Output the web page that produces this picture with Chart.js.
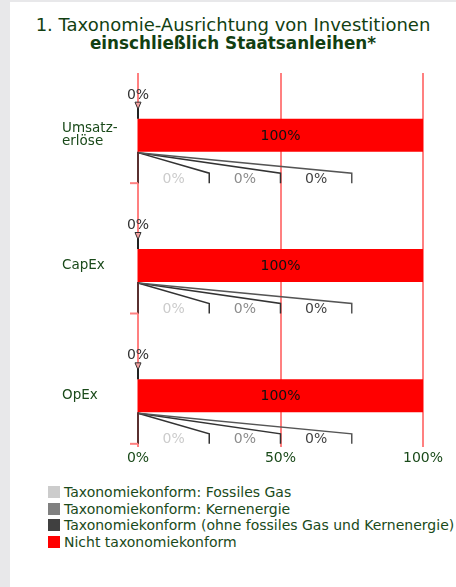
<!DOCTYPE html>
<html lang="de">
<head>
<meta charset="utf-8">
<script src="https://cdn.jsdelivr.net/npm/chart.js@4.4.1/dist/chart.umd.min.js"></script>
<style>
    html, body { margin: 0; padding: 0; width: 456px; height: 587px; overflow: hidden; background: #e8e8ea; font-family: "DejaVu Sans", sans-serif; }
    #panel { position: absolute; left: 10px; top: 2px; right: 0; bottom: 0; background: #fff; }
    #title { position: absolute; left: 10px; right: 0; top: 16px; text-align: center; color: #123f12; font-size: 18px; line-height: 18px; }
    #title b { font-size: 16.8px; }
    #chartBox { position: absolute; left: 0; top: 0; width: 456px; height: 480px; }
    #legend { position: absolute; left: 48px; top: 484px; color: #1a4a1a; font-size: 14px; }
    .item { height: 16.5px; line-height: 16.5px; white-space: nowrap; }
    .box { display: inline-block; width: 12px; height: 12px; margin-right: 4px; vertical-align: -1px; }
</style>
</head>
<body>
<div id="panel"></div>
<div id="title">1. Taxonomie-Ausrichtung von Investitionen<br><b>einschließlich Staatsanleihen*</b></div>
<div id="chartBox"><canvas id="taxoChart"></canvas></div>
<div id="legend"></div>
<script>
// Chart data
const categories = [['Umsatz-', 'erlöse'], 'CapEx', 'OpEx'];
const fossilGas = [0, 0, 0];
const nuclear = [0, 0, 0];
const alignedOther = [0, 0, 0];
const notAligned = [100, 100, 100];
const xTicks = [0, 50, 100];

const seriesNames = [
    'Taxonomiekonform: Fossiles Gas',
    'Taxonomiekonform: Kernenergie',
    'Taxonomiekonform (ohne fossiles Gas und Kernenergie)',
    'Nicht taxonomiekonform'
];
const seriesColors = ['#cccccc', '#808080', '#404040', '#ff0000'];
const calloutColors = ['#cccccc', '#8c8c8c', '#444444'];
const green = '#1a4a1a';
const fontName = '"DejaVu Sans", sans-serif';

// Red vertical grid lines, drawn under the bars
const gridPlugin = {
    id: 'redGrid',
    beforeDatasetsDraw(chart) {
        const { ctx, chartArea, scales: { x } } = chart;
        ctx.save();
        ctx.strokeStyle = '#ff8080';
        ctx.lineWidth = 2;
        xTicks.forEach(v => {
            const px = Math.round(x.getPixelForValue(v));
            ctx.beginPath();
            ctx.moveTo(px, chartArea.top + 3);
            ctx.lineTo(px, chartArea.bottom - 14);
            ctx.stroke();
        });
        ctx.restore();
    },
    afterDraw(chart) {
        // x tick labels, placed just under the shortened grid lines
        const { ctx, chartArea, scales: { x } } = chart;
        ctx.save();
        ctx.font = '14px ' + fontName;
        ctx.fillStyle = green;
        ctx.textAlign = 'center';
        ctx.textBaseline = 'middle';
        x.ticks.forEach((t, idx) => {
            ctx.fillText(t.label, x.getPixelForTick(idx), chartArea.bottom - 3);
        });
        ctx.restore();
    }
};

// Value labels and the callouts above / below each bar
const calloutPlugin = {
    id: 'callouts',
    afterDatasetsDraw(chart) {
        const { ctx, scales: { x } } = chart;
        const redMeta = chart.getDatasetMeta(3);
        ctx.save();
        ctx.font = '14px ' + fontName;
        ctx.textAlign = 'center';
        ctx.textBaseline = 'middle';

        categories.forEach((c, i) => {
            const bar = redMeta.data[i];
            const cy = bar.y;
            const half = bar.height / 2;
            const x0 = x.getPixelForValue(0);

            // label inside the red bar
            ctx.fillStyle = '#111';
            ctx.fillText(notAligned[i] + '%', (bar.x + bar.base) / 2, cy + 1);

            // total aligned, above the bar
            const sum = fossilGas[i] + nuclear[i] + alignedOther[i];
            const xs = x.getPixelForValue(sum / 2);
            ctx.fillStyle = '#333';
            ctx.fillText(sum + '%', xs, cy - 40);

            ctx.beginPath();
            ctx.moveTo(xs - 3, cy - 33);
            ctx.lineTo(xs + 3, cy - 33);
            ctx.lineTo(xs, cy - 26);
            ctx.closePath();
            ctx.fillStyle = '#f4a0a0';
            ctx.fill();
            ctx.strokeStyle = '#333';
            ctx.lineWidth = 1;
            ctx.stroke();

            ctx.beginPath();
            ctx.moveTo(xs, cy - 27);
            ctx.lineTo(xs, cy - half);
            ctx.lineWidth = 2;
            ctx.strokeStyle = '#222';
            ctx.stroke();

            // breakdown below the bar
            const parts = [fossilGas[i], nuclear[i], alignedOther[i]];
            const yTop = cy + half + 1;
            let prev = x0;
            parts.forEach((v, k) => {
                const xb = x.getPixelForValue(25 * (k + 1));
                ctx.beginPath();
                ctx.moveTo(x0, yTop);
                ctx.lineTo(xb, cy + 38);
                ctx.lineTo(xb, cy + 48);
                ctx.strokeStyle = k === 2 ? '#555' : '#333';
                ctx.lineWidth = 1.5;
                ctx.stroke();
                ctx.fillStyle = calloutColors[k];
                ctx.fillText(v + '%', (prev + xb) / 2, cy + 44);
                prev = xb;
            });

            ctx.beginPath();
            ctx.moveTo(x0, yTop - 1);
            ctx.lineTo(x0, cy + 48);
            ctx.strokeStyle = '#5a3030';
            ctx.lineWidth = 2;
            ctx.stroke();

            ctx.beginPath();
            ctx.moveTo(x0 - 8, cy + 48);
            ctx.lineTo(x0, cy + 48);
            ctx.strokeStyle = '#ff8080';
            ctx.stroke();
        });
        ctx.restore();
    }
};

function createChart() {
    const ctx = document.getElementById('taxoChart').getContext('2d');
    const values = [fossilGas, nuclear, alignedOther, notAligned];
    return new Chart(ctx, {
        type: 'bar',
        data: {
            labels: categories,
            datasets: values.map((d, k) => ({
                label: seriesNames[k],
                data: d,
                backgroundColor: seriesColors[k],
                borderWidth: 0,
                barPercentage: 0.253,
                categoryPercentage: 1
            }))
        },
        options: {
            indexAxis: 'y',
            responsive: true,
            maintainAspectRatio: false,
            animation: false,
            layout: { padding: { left: 62, right: 33, top: 70, bottom: 0 } },
            plugins: {
                legend: { display: false },
                tooltip: { enabled: false }
            },
            scales: {
                x: {
                    stacked: true,
                    min: 0,
                    max: 100,
                    afterFit: s => { s.height = 19; },
                    grid: { display: false, drawTicks: false },
                    border: { display: false },
                    ticks: {
                        display: false,
                        stepSize: 50,
                        callback: v => v + '%'
                    }
                },
                y: {
                    stacked: true,
                    afterFit: s => { s.width = 76; },
                    grid: { display: false, drawTicks: false },
                    border: { display: false },
                    ticks: {
                        crossAlign: 'far',
                        color: green,
                        font: { family: fontName, size: 13.5, lineHeight: 1 }
                    }
                }
            }
        },
        plugins: [gridPlugin, calloutPlugin]
    });
}

function buildLegend(chart) {
    const box = document.getElementById('legend');
    chart.data.datasets.forEach(ds => {
        const row = document.createElement('div');
        row.className = 'item';
        row.innerHTML = '<span class="box" style="background:' + ds.backgroundColor + '"></span>' + ds.label;
        box.appendChild(row);
    });
}

const chart = createChart();
buildLegend(chart);
</script>
</body>
</html>
